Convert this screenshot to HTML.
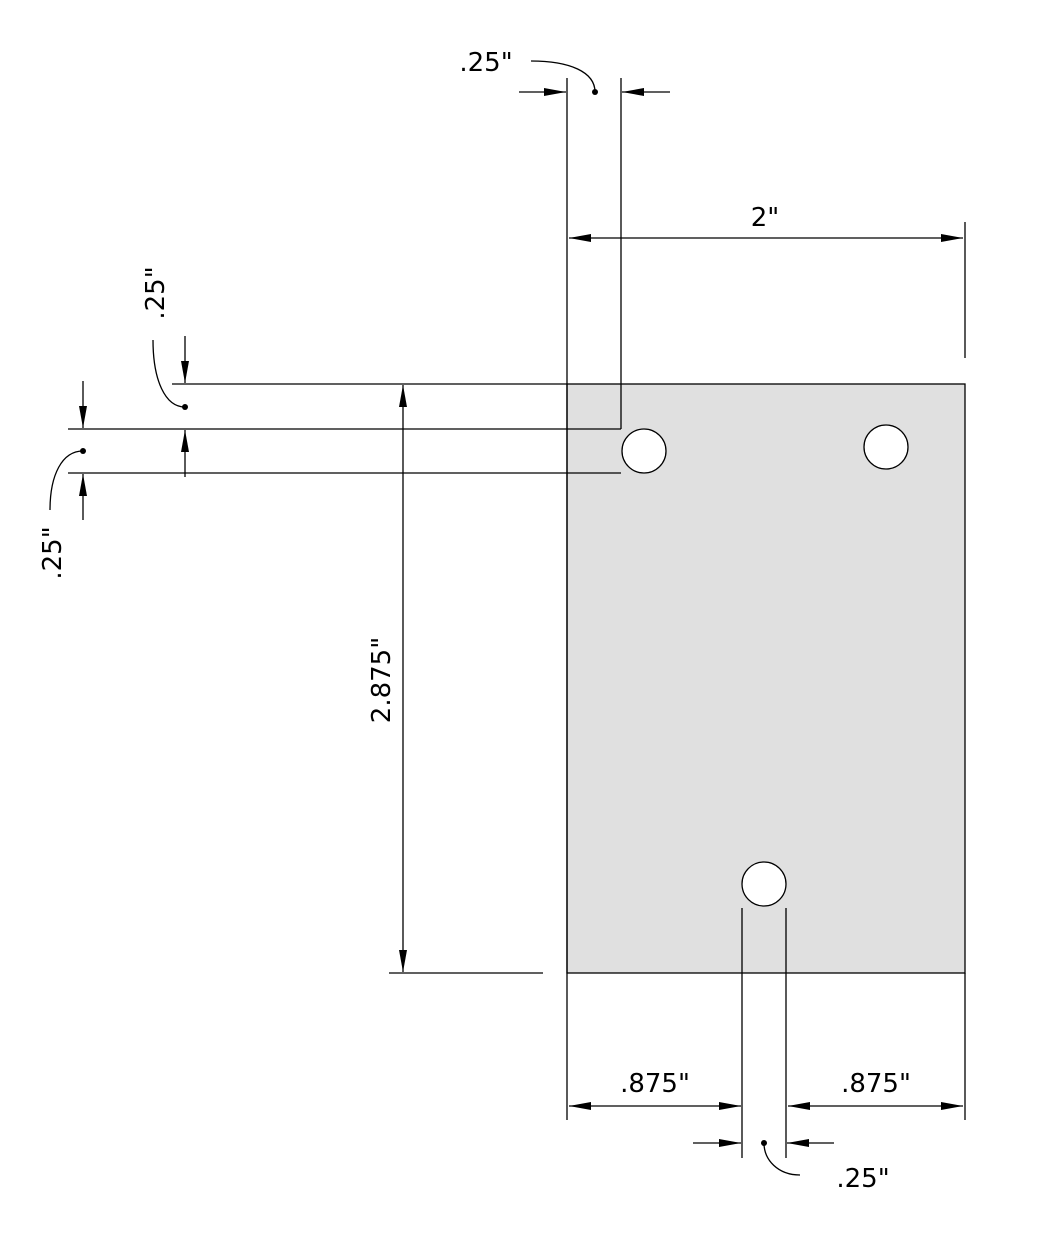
<!DOCTYPE html>
<html><head><meta charset="utf-8"><style>
html,body{margin:0;padding:0;background:#fff;}
svg{display:block;}
text{font-family:"DejaVu Sans","Liberation Sans",sans-serif;font-size:26px;fill:#000;}
</style></head><body>
<svg width="1037" height="1241" viewBox="0 0 1037 1241" xmlns="http://www.w3.org/2000/svg">
<defs>
<marker id="a" markerWidth="22" markerHeight="10" refX="22" refY="5" orient="auto" markerUnits="userSpaceOnUse">
<polygon points="0,1 22,5 0,9" fill="#000"/>
</marker>
</defs>
<rect x="567" y="384" width="398" height="589" fill="#e0e0e0" stroke="#000" stroke-width="1.3"/>
<g fill="#fff" stroke="#000" stroke-width="1.3">
<circle cx="644" cy="451" r="22"/>
<circle cx="886" cy="447" r="22"/>
<circle cx="764" cy="884" r="22"/>
</g>
<g stroke="#000" stroke-width="1.3" fill="none">
<!-- extension lines -->
<line x1="567" y1="78" x2="567" y2="1120"/>
<line x1="621" y1="78" x2="621" y2="429"/>
<line x1="965" y1="222" x2="965" y2="358"/>
<line x1="965" y1="973" x2="965" y2="1120"/>
<line x1="172" y1="384" x2="567" y2="384"/>
<line x1="68" y1="429" x2="621" y2="429"/>
<line x1="68" y1="473" x2="621" y2="473"/>
<line x1="389" y1="973" x2="543" y2="973"/>
<line x1="742" y1="908" x2="742" y2="1158"/>
<line x1="786" y1="908" x2="786" y2="1158"/>
<!-- dimension lines -->
<line x1="519" y1="92" x2="566" y2="92" marker-end="url(#a)"/>
<line x1="670" y1="92" x2="622" y2="92" marker-end="url(#a)"/>
<line x1="765" y1="238" x2="569" y2="238" marker-end="url(#a)"/>
<line x1="765" y1="238" x2="963" y2="238" marker-end="url(#a)"/>
<line x1="403" y1="680" x2="403" y2="385" marker-end="url(#a)"/>
<line x1="403" y1="680" x2="403" y2="972" marker-end="url(#a)"/>
<line x1="185" y1="336" x2="185" y2="383" marker-end="url(#a)"/>
<line x1="185" y1="477" x2="185" y2="430" marker-end="url(#a)"/>
<line x1="83" y1="381" x2="83" y2="428" marker-end="url(#a)"/>
<line x1="83" y1="520" x2="83" y2="474" marker-end="url(#a)"/>
<line x1="655" y1="1106" x2="569" y2="1106" marker-end="url(#a)"/>
<line x1="655" y1="1106" x2="741" y2="1106" marker-end="url(#a)"/>
<line x1="876" y1="1106" x2="788" y2="1106" marker-end="url(#a)"/>
<line x1="876" y1="1106" x2="963" y2="1106" marker-end="url(#a)"/>
<line x1="693" y1="1143" x2="741" y2="1143" marker-end="url(#a)"/>
<line x1="834" y1="1143" x2="787" y2="1143" marker-end="url(#a)"/>
<!-- leaders -->
<path d="M531,61 C570,61 595,72 595,92"/>
<path d="M153,340 C153,380 165,407 185,407"/>
<path d="M50,510 C50,475 62,451 83,451"/>
<path d="M764,1143 C764,1160 778,1175 800,1175"/>
</g>
<g fill="#000">
<circle cx="595" cy="92" r="3"/>
<circle cx="185" cy="407" r="3"/>
<circle cx="83" cy="451" r="3"/>
<circle cx="764" cy="1143" r="3"/>
</g>
<text x="486" y="71" text-anchor="middle">.25"</text>
<text x="765" y="226" text-anchor="middle">2"</text>
<text x="655" y="1092" text-anchor="middle">.875"</text>
<text x="876" y="1092" text-anchor="middle">.875"</text>
<text x="863" y="1187" text-anchor="middle">.25"</text>
<text transform="translate(390,680) rotate(-90)" text-anchor="middle">2.875"</text>
<text transform="translate(164,293) rotate(-90)" text-anchor="middle">.25"</text>
<text transform="translate(61,553) rotate(-90)" text-anchor="middle">.25"</text>
</svg>
</body></html>
